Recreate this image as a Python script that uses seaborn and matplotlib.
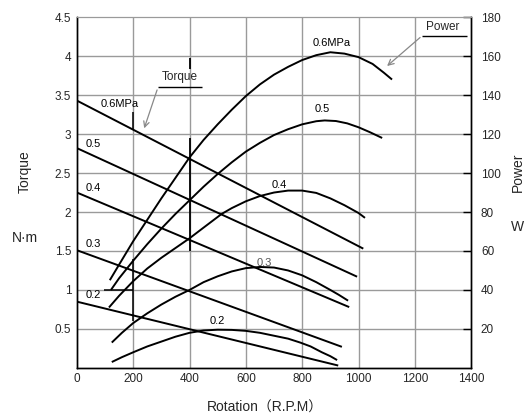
#Torque / power curves vs rotation speed for several supply pressures
import pandas as pd
import matplotlib
matplotlib.use('Agg')
from matplotlib import pyplot as plt
import seaborn as sns

#torque lines (N.m), straight: value at start / end rpm
pressures = ['0.6', '0.5', '0.4', '0.3', '0.2']
torque_rpm = [[0, 1017], [0, 995], [0, 967], [0, 941], [0, 928]]
torque_nm = [[3.43, 1.53], [2.82, 1.17], [2.25, 0.78], [1.51, 0.27], [0.85, 0.03]]

#power curves (W)
power_rpm_06 = [117, 150, 200, 250, 300, 350, 400, 450, 500, 550, 600, 650, 700, 750,
                800, 850, 900, 950, 1000, 1050, 1090, 1119]
power_w_06 = [45, 53, 65, 76, 87, 97.5, 108, 117, 125, 132.5, 139.5, 145.5, 150.5, 154.5,
              158, 160.5, 162, 161.3, 159.5, 156, 151.5, 148]
power_rpm_05 = [121, 150, 200, 250, 300, 350, 400, 450, 500, 550, 600, 650, 700, 750,
                800, 850, 880, 920, 960, 1000, 1040, 1084]
power_w_05 = [40, 46, 55, 63.5, 71.5, 79, 86, 93, 99.5, 105.5, 111, 115.5, 119.5, 122.5,
              125, 126.6, 127, 126.7, 125.5, 123.5, 121, 118]
power_rpm_04 = [114, 150, 200, 250, 300, 350, 400, 450, 514, 550, 600, 650, 700, 750,
                800, 850, 900, 950, 1000, 1023]
power_w_04 = [31, 37, 44.5, 51, 56.5, 61.5, 66.5, 72, 79, 82, 85.5, 88.2, 90, 91,
              91, 89.8, 87, 83.5, 79.5, 77]
power_rpm_03 = [124, 160, 200, 250, 300, 350, 400, 450, 500, 550, 600, 650, 700, 750,
                800, 850, 900, 930, 963]
power_w_03 = [13, 18, 23, 28, 32.5, 36.5, 40, 44, 47, 49.5, 51.2, 51.8, 51.5, 50,
              47.5, 44, 40, 37.5, 34.5]
power_rpm_02 = [124, 160, 200, 250, 300, 350, 400, 450, 500, 550, 600, 650, 700, 750,
                793, 830, 870, 900, 924]
power_w_02 = [3, 5.5, 8, 11, 13.5, 16, 18, 19.2, 19.6, 19.5, 19, 18, 16.5, 15,
              13, 11, 8, 6, 4]

x_ticks = [0, 200, 400, 600, 800, 1000, 1200, 1400]
torque_ticks = [0.5, 1, 1.5, 2, 2.5, 3, 3.5, 4, 4.5]
torque_ticklabels = ['0.5', '1', '1.5', '2', '2.5', '3', '3.5', '4', '4.5']
power_ticks = [20, 40, 60, 80, 100, 120, 140, 160, 180]

#long format tables for seaborn
rows = []
for p, xs, ys in zip(pressures, torque_rpm, torque_nm):
    for x, y in zip(xs, ys):
        rows.append({'pressure': p, 'rpm': x, 'torque': y})
torque_df = pd.DataFrame(rows)

power_sets = [power_rpm_06, power_rpm_05, power_rpm_04, power_rpm_03, power_rpm_02]
power_vals = [power_w_06, power_w_05, power_w_04, power_w_03, power_w_02]
rows = []
for p, xs, ys in zip(pressures, power_sets, power_vals):
    for x, y in zip(xs, ys):
        rows.append({'pressure': p, 'rpm': x, 'power': y})
power_df = pd.DataFrame(rows)

sns.set_style('white')
plt.rcParams['font.family'] = ['Liberation Sans', 'Noto Sans CJK JP', 'DejaVu Sans']

fig = plt.figure(figsize=(5.3, 4.19), dpi=100)
ax = fig.add_axes([0.145, 0.122, 0.744, 0.837])
ax2 = ax.twinx()

grid_c = '#9a9a9a'
for x in x_ticks[1:-1]:
    ax.axvline(x, color=grid_c, lw=1, zorder=0)
for y in torque_ticks[:-1]:
    ax.axhline(y, color=grid_c, lw=1, zorder=0)

line_kw = dict(color='black', lw=1.4, solid_joinstyle='round', solid_capstyle='butt')
sns.lineplot(data=torque_df, x='rpm', y='torque', units='pressure', estimator=None,
             ax=ax, legend=False, **line_kw)
sns.lineplot(data=power_df, x='rpm', y='power', units='pressure', estimator=None,
             ax=ax2, legend=False, **line_kw)

ax.set_xlim(0, 1400)
ax.set_ylim(0, 4.5)
ax2.set_ylim(0, 180)

ax.set_xticks(x_ticks)
ax.set_xticklabels([str(v) for v in x_ticks], fontsize=8.5)
ax.set_yticks(torque_ticks)
ax.set_yticklabels(torque_ticklabels, fontsize=8.5)
ax2.set_yticks(power_ticks)
ax2.set_yticklabels([str(v) for v in power_ticks], fontsize=8.5)
ax.tick_params(axis='both', length=0, pad=4)
ax2.tick_params(axis='y', direction='in', length=6, width=1, pad=7, color='black')
ax.set_xlabel('')
ax.set_ylabel('')
ax2.set_ylabel('')

for a in (ax, ax2):
    for side in ('left', 'bottom', 'right'):
        a.spines[side].set_color('black')
        a.spines[side].set_linewidth(1)
    a.spines['top'].set_color(grid_c)

#helper marks drawn on the original
ax.vlines(400, 1.5, 2.95, color='black', lw=1.3)
ax.vlines(400, 3.84, 3.97, color='black', lw=1.3)
ax.vlines(200, 0.6, 1.4, color='black', lw=1.1)
ax.vlines(200, 3.05, 3.28, color='black', lw=1.1)
ax.hlines(1.0, 95, 200, color='black', lw=1.1)

#curve labels
lab = dict(fontsize=8, color='black')
ax.text(85, 3.38, '0.6MPa', va='center', ha='left', **lab)
ax.text(30, 2.87, '0.5', va='center', ha='left', **lab)
ax.text(30, 2.31, '0.4', va='center', ha='left', **lab)
ax.text(30, 1.59, '0.3', va='center', ha='left', **lab)
ax.text(30, 0.94, '0.2', va='center', ha='left', **lab)
ax2.text(905, 167, '0.6MPa', va='center', ha='center', **lab)
ax2.text(871, 133, '0.5', va='center', ha='center', **lab)
ax2.text(718, 94, '0.4', va='center', ha='center', **lab)
ax2.text(665, 54, '0.3', va='center', ha='center', fontsize=8, color='#555555')
ax2.text(497, 24, '0.2', va='center', ha='center', **lab)

#Torque / Power callouts
ax.text(366, 3.73, 'Torque', va='center', ha='center', fontsize=8.5)
ax.hlines(3.60, 288, 444, color='black', lw=1)
ax.annotate('', xy=(236, 3.04), xytext=(288, 3.60),
            arrowprops=dict(arrowstyle='->', color='#888888', lw=0.9))
ax2.text(1300, 175, 'Power', va='center', ha='center', fontsize=8.5)
ax2.hlines(170.5, 1226, 1385, color='black', lw=1)
ax2.annotate('', xy=(1094, 154), xytext=(1226, 170.5),
             arrowprops=dict(arrowstyle='->', color='#888888', lw=0.9))

#axis titles
fig.text(0.047, 0.59, 'Torque', rotation=90, va='center', ha='center', fontsize=10)
fig.text(0.047, 0.432, 'N\u00b7m', va='center', ha='center', fontsize=10)
fig.text(0.977, 0.59, 'Power', rotation=90, va='center', ha='center', fontsize=10)
fig.text(0.977, 0.458, 'W', va='center', ha='center', fontsize=10)
fig.text(0.5, 0.026, 'Rotation\uff08R.P.M\uff09', va='center', ha='center', fontsize=10)

fig.savefig('out.png', dpi=100)
